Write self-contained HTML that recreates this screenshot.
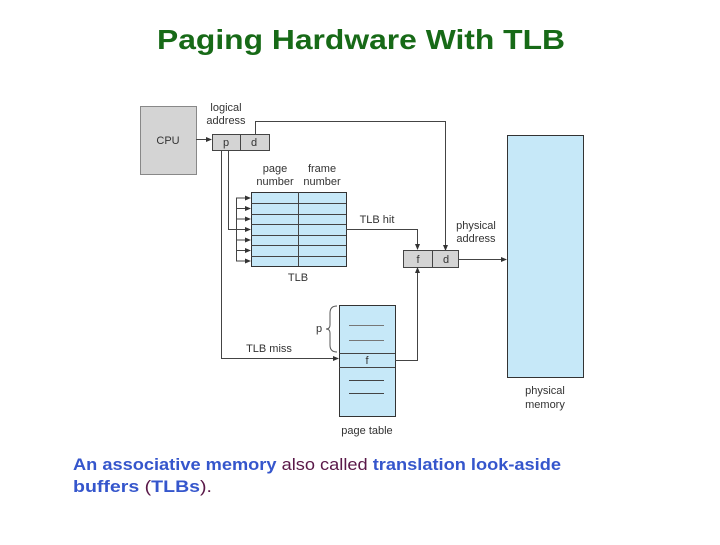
<!DOCTYPE html>
<html><head><meta charset="utf-8"><style>
body{margin:0;width:720px;height:540px;background:#fff;overflow:hidden;font-family:"Liberation Sans",sans-serif}
</style></head><body>
<svg width="720" height="540" viewBox="0 0 720 540" xmlns="http://www.w3.org/2000/svg" font-family="Liberation Sans, sans-serif">
<defs><marker id="a" markerWidth="6" markerHeight="6" refX="5" refY="3" orient="auto" markerUnits="userSpaceOnUse"><path d="M0,0.5 L6,3 L0,5.5Z" fill="#333"/></marker></defs>
<text x="361" y="49" text-anchor="middle" font-size="28" font-weight="bold" fill="#176a17" textLength="408" lengthAdjust="spacingAndGlyphs">Paging Hardware With TLB</text>
<g stroke="#444" stroke-width="1" fill="none">
<rect x="140.5" y="106.5" width="56" height="68" fill="#d4d4d4" stroke="#888"/>
<rect x="212.5" y="134.5" width="57" height="16" fill="#d4d4d4"/>
<line x1="240.5" y1="134" x2="240.5" y2="150"/>
<line x1="196" y1="139.5" x2="211" y2="139.5" marker-end="url(#a)"/>
<polyline points="255.5,134 255.5,121.5 445.5,121.5 445.5,250" marker-end="url(#a)"/>
<rect x="403.5" y="250.5" width="55" height="17" fill="#d4d4d4"/>
<line x1="432.5" y1="250" x2="432.5" y2="267"/>
<line x1="458" y1="259.5" x2="506" y2="259.5" marker-end="url(#a)"/>
<rect x="251.5" y="192.5" width="95" height="74" fill="#c6e8f8" stroke="#333"/>
<line x1="298.5" y1="192" x2="298.5" y2="266"/>
<path d="M251 203.5H346M251 214.5H346M251 224.5H346M251 235.5H346M251 245.5H346M251 256.5H346"/>
<polyline points="228.5,150 228.5,229.5 250,229.5" marker-end="url(#a)"/>
<line x1="236.5" y1="198" x2="236.5" y2="261"/>
<line x1="236" y1="198" x2="250" y2="198" marker-end="url(#a)"/>
<line x1="236" y1="208.5" x2="250" y2="208.5" marker-end="url(#a)"/>
<line x1="236" y1="219" x2="250" y2="219" marker-end="url(#a)"/>
<line x1="236" y1="240" x2="250" y2="240" marker-end="url(#a)"/>
<line x1="236" y1="250.5" x2="250" y2="250.5" marker-end="url(#a)"/>
<line x1="236" y1="261" x2="250" y2="261" marker-end="url(#a)"/>
<polyline points="346,229.5 417.5,229.5 417.5,249" marker-end="url(#a)"/>
<polyline points="221.5,150 221.5,358.5 338,358.5" marker-end="url(#a)"/>
<rect x="339.5" y="305.5" width="56" height="111" fill="#c6e8f8" stroke="#333"/>
<path d="M339 353.5H395M339 367.5H395"/>
<path d="M349 325.5H384M349 340.5H384" stroke="#777"/>
<path d="M349 380.5H384M349 393.5H384"/>
<polyline points="395,360.5 417.5,360.5 417.5,268" marker-end="url(#a)"/>
<path d="M337,306 Q330,306 330,313 L330,325 Q330,329 326,329 Q330,329 330,333 L330,345 Q330,352 337,352" stroke="#555"/>
<rect x="507.5" y="135.5" width="76" height="242" fill="#c6e8f8" stroke="#333"/>
</g>
<g font-size="11" fill="#333" text-anchor="middle">
<text x="168" y="144">CPU</text>
<text x="226" y="111">logical</text><text x="226" y="124">address</text>
<text x="226" y="146">p</text><text x="254" y="146">d</text>
<text x="275" y="172">page</text><text x="275" y="185">number</text>
<text x="322" y="172">frame</text><text x="322" y="185">number</text>
<text x="377" y="223">TLB hit</text>
<text x="476" y="229">physical</text><text x="476" y="242">address</text>
<text x="418" y="263">f</text><text x="446" y="263">d</text>
<text x="298" y="281">TLB</text>
<text x="319" y="332">p</text>
<text x="269" y="352">TLB miss</text>
<text x="367" y="364">f</text>
<text x="367" y="434">page table</text>
<text x="545" y="394">physical</text><text x="545" y="408">memory</text>
</g>
<g font-size="17" font-weight="bold">
<text x="73" y="470" textLength="488" lengthAdjust="spacingAndGlyphs"><tspan fill="#3556cc">An associative memory </tspan><tspan fill="#5a1848" font-weight="normal">also called </tspan><tspan fill="#3556cc"> translation look-aside</tspan></text>
<text x="73" y="492" textLength="139" lengthAdjust="spacingAndGlyphs"><tspan fill="#3556cc">buffers </tspan><tspan fill="#5a1848" font-weight="normal">(</tspan><tspan fill="#3556cc">TLBs</tspan><tspan fill="#5a1848" font-weight="normal">).</tspan></text>
</g>
</svg>
</body></html>
